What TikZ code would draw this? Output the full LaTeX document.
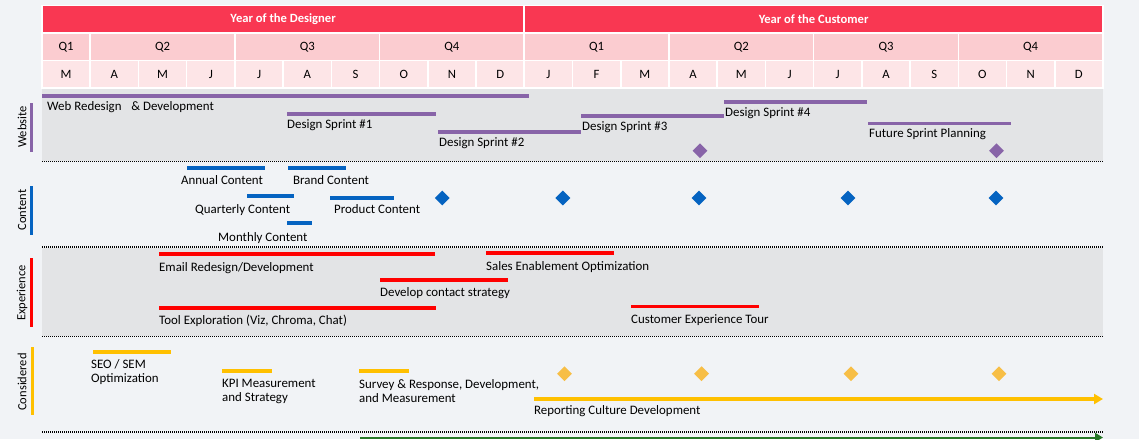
\documentclass[tikz,border=0pt]{standalone}
\usepackage{fontspec}
\setmainfont{Carlito}
\usetikzlibrary{arrows.meta,shapes.geometric}
\definecolor{pagebg}{RGB}{241,243,246}
\definecolor{lanegray}{RGB}{227,228,230}
\definecolor{hdrred}{RGB}{249,55,82}
\definecolor{qpink}{RGB}{251,204,208}
\definecolor{mpink}{RGB}{253,229,231}
\definecolor{wpurple}{RGB}{136,100,168}
\definecolor{cblue}{RGB}{5,99,193}
\definecolor{xred}{RGB}{255,0,0}
\definecolor{korange}{RGB}{255,192,0}
\definecolor{kdiam}{RGB}{247,190,70}
\definecolor{dgreen}{RGB}{40,120,40}
\begin{document}
\begin{tikzpicture}[x=1pt,y=-1pt,
  txt/.style={font=\fontsize{12.9}{14}\selectfont, text=black, inner sep=0},
  lbl/.style={txt, anchor=base west},
  mlbl/.style={txt, anchor=north west, align=left},
  bar/.style={line width=3.2pt},
  cellbase/.style={rectangle, draw=white, line width=1.6pt, inner sep=0, minimum height=27.5pt, font=\fontsize{12.7}{14}\selectfont},
  yearcell/.style={cellbase, fill=hdrred, text=white, font=\fontsize{12.6}{14}\selectfont\bfseries},
  qcell/.style={cellbase, fill=qpink, text=black},
  mcell/.style={cellbase, fill=mpink, text=black, minimum width=48.2273pt},
  lanetitle/.style={rotate=90, inner sep=0, font=\fontsize{12.5}{14}\selectfont, text=black},
  sep/.style={line width=1.9pt, black, dash pattern=on 1.1pt off 0.9pt},
  dmd/.style={diamond, aspect=1, minimum size=15pt, inner sep=0},
]
\fill[pagebg] (0,0) rectangle (1139,439);
\useasboundingbox (0,0) rectangle (1139,439);

% lanes
\fill[lanegray] (42,88.5) rectangle (1103,161);
\fill[lanegray] (42,247.5) rectangle (1103,336);

% header: years
\node[yearcell, minimum width=482.27pt] (y1) at (283.14,19.25) {Year of the Designer};
\node[yearcell, minimum width=578.73pt] (y2) at (813.64,19.25) {Year of the Customer};
% quarters
\foreach \q/\a/\b [count=\k] in {Q1/0/1,Q2/1/4,Q3/4/7,Q4/7/10,Q1/10/13,Q2/13/16,Q3/16/19,Q4/19/22}{
  \pgfmathsetmacro\xc{42+(\a+\b)/2*48.2273}
  \pgfmathsetmacro\w{(\b-\a)*48.2273}
  \node[qcell, minimum width=\w pt] (q\k) at (\xc,46.75) {\q};
}
% months
\foreach \m [count=\i from 0] in {M,A,M,J,J,A,S,O,N,D,J,F,M,A,M,J,J,A,S,O,N,D}{
  \pgfmathsetmacro\xc{42+(\i+0.5)*48.2273}
  \node[mcell] (m\i) at (\xc,74.25) {\m};
}

% separators
\draw[sep] (42,161.5) -- (1103,161.5);
\draw[sep] (42,246.8) -- (1103,246.8);
\draw[sep] (42,336.5) -- (1103,336.5);
\draw[sep] (42,432) -- (1103,432);

% lane titles
\node[lanetitle] (tw) at (22,127) {Website};
\draw[wpurple, line width=3pt] (31,103) -- (31,152);
\node[lanetitle] (tc) at (22,210) {Content};
\draw[cblue, line width=3pt] (31,186) -- (31,235);
\node[lanetitle] (te) at (22,293) {Experience};
\draw[xred, line width=3pt] (31,258) -- (31,327);
\node[lanetitle] (tk) at (22,382) {Considered};
\draw[korange, line width=3pt] (32,347) -- (32,415);

% Website
\draw[bar, wpurple] (42,96) -- (529,96);
\node[lbl] (w1) at (47,110) {Web Redesign\hspace{7pt} \& Development};
\draw[bar, wpurple] (287,114) -- (436,114);
\node[lbl] (w2) at (287,128) {Design Sprint \#1};
\draw[bar, wpurple] (438,132) -- (581,132);
\node[lbl] (w3) at (439,146) {Design Sprint \#2};
\draw[bar, wpurple] (581,116) -- (724,116);
\node[lbl] (w4) at (582,130) {Design Sprint \#3};
\draw[bar, wpurple] (724,102) -- (867,102);
\node[lbl] (w5) at (725,116) {Design Sprint \#4};
\draw[bar, wpurple] (868,123.5) -- (1011,123.5);
\node[lbl] (w6) at (869,137) {Future Sprint Planning};
\node[dmd, fill=wpurple] (wd1) at (700,150.7) {};
\node[dmd, fill=wpurple] (wd2) at (996.5,150.7) {};

% Content
\draw[bar, cblue] (187,168) -- (265,168);
\node[lbl] (c1) at (181,184) {Annual Content};
\draw[bar, cblue] (288,168) -- (346,168);
\node[lbl] (c2) at (293,184) {Brand Content};
\draw[bar, cblue] (247,196) -- (294,196);
\node[lbl] (c3) at (195,213) {Quarterly Content};
\draw[bar, cblue] (330,198) -- (394,198);
\node[lbl] (c4) at (334,213) {Product Content};
\draw[bar, cblue] (287,223) -- (312,223);
\node[lbl] (c5) at (218,241) {Monthly Content};
\foreach \x [count=\j] in {442.2,562.9,699,848,996}{
  \node[dmd, fill=cblue] (cd\j) at (\x,198) {};
}

% Experience
\draw[bar, xred] (159,254) -- (435,254);
\node[lbl] (e1) at (159,271) {Email Redesign/Development};
\draw[bar, xred] (486,253) -- (614,253);
\node[lbl] (e2) at (486,270) {Sales Enablement Optimization};
\draw[bar, xred] (380,280) -- (508,280);
\node[lbl] (e3) at (380,296) {Develop contact strategy};
\draw[bar, xred] (159,308) -- (436,308);
\node[lbl] (e4) at (159,324) {Tool Exploration (Viz, Chroma, Chat)};
\draw[bar, xred] (631,306.7) -- (759,306.7);
\node[lbl] (e5) at (631,323) {Customer Experience Tour};

% Considered
\draw[bar, korange] (93,352) -- (171,352);
\node[mlbl] (k1) at (91,359.5) {SEO / SEM\\Optimization};
\draw[bar, korange] (222,371) -- (272,371);
\node[mlbl] (k2) at (222,379.5) {KPI Measurement\\and Strategy};
\draw[bar, korange] (359,371) -- (409,371);
\node[mlbl] (k3) at (359,379.5) {Survey \& Response, Development,\\and Measurement};
\coordinate (rs) at (534,399);
\coordinate (re) at (1103,399);
\draw[bar, korange, -{Triangle[length=9pt,width=10pt]}] (rs) -- (re);
\node[lbl] (k4) at (534,414) {Reporting Culture Development};
\foreach \x [count=\j] in {564.5,701.6,851,999}{
  \node[dmd, fill=kdiam] (kd\j) at (\x,373.7) {};
}

% bottom green arrow
\coordinate (gs) at (360,437.5);
\coordinate (ge) at (1103,437.5);
\draw[line width=2pt, dgreen, -{Triangle[length=8pt,width=9pt]}] (gs) -- (ge);
\end{tikzpicture}
\end{document}
